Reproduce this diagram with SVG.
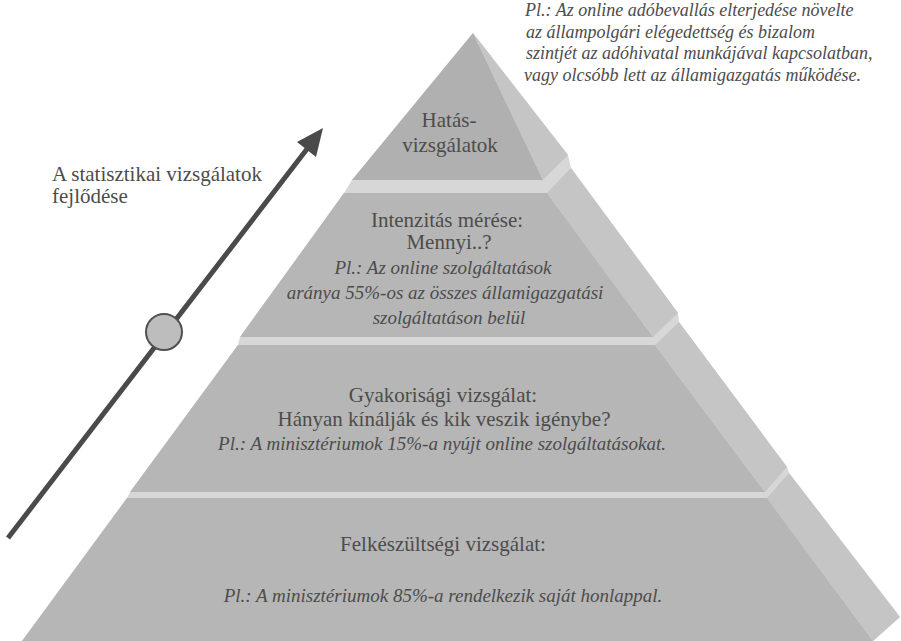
<svg xmlns="http://www.w3.org/2000/svg" width="901" height="641" viewBox="0 0 901 641">
<style>
.t{font-family:"Liberation Serif","Times New Roman",serif;font-size:21px;fill:#4c4c4c}
.i{font-family:"Liberation Serif","Times New Roman",serif;font-size:19px;font-style:italic;fill:#4c4c4c}
.n{font-family:"Liberation Serif","Times New Roman",serif;font-size:18px;font-style:italic;fill:#4c4c4c}
.m{text-anchor:middle}
.front{fill:#b6b6b6}
.top{fill:#b0b0b0}
.side{fill:#c5c5c5}
.band{fill:#d7d7d7}
.arrow{stroke:#4a4a4a;stroke-width:5;fill:none}
</style>
<rect width="901" height="641" fill="#ffffff"/>
<g id="pyramid-body">
<polygon class="band" points="473,33 352,180 344,193 240,337 238,345 130,492 127,498 22,641 873,641 900,617 789,473 787,467 679,322 678,313 571,168 568,155"/>
</g>
<g id="layer1">
<polygon class="top" points="473,33 352,180 543,180"/>
<polygon class="side" points="473,33 543,180 568,155"/>
<text class="t m" x="449" y="127">Hatás-</text>
<text class="t m" x="450" y="152">vizsgálatok</text>
</g>
<g id="layer2">
<polygon class="front" points="344,193 547,193 653,337 240,337"/>
<polygon class="side" points="547,193 571,168 678,313 653,337"/>
<text class="t m" x="447" y="227">Intenzitás mérése:</text>
<text class="t m" x="449" y="249">Mennyi..?</text>
<text class="i m" x="443" y="274">Pl.: Az online szolgáltatások</text>
<text class="i m" x="445" y="299">aránya 55%-os az összes államigazgatási</text>
<text class="i m" x="449" y="324">szolgáltatáson belül</text>
</g>
<g id="layer3">
<polygon class="front" points="238,345 655,345 765,492 130,492"/>
<polygon class="side" points="655,345 679,322 787,467 765,492"/>
<text class="t m" x="443" y="402">Gyakorisági vizsgálat:</text>
<text class="t m" x="444" y="426">Hányan kínálják és kik veszik igénybe?</text>
<text class="i m" x="442" y="450">Pl.: A minisztériumok 15%-a nyújt online szolgáltatásokat.</text>
</g>
<g id="layer4">
<polygon class="front" points="127,498 767,498 873,641 22,641"/>
<polygon class="side" points="767,498 789,473 900,617 873,641"/>
<text class="t m" x="443" y="551">Felkészültségi vizsgálat:</text>
<text class="i m" x="443" y="602">Pl.: A minisztériumok 85%-a rendelkezik saját honlappal.</text>
</g>
<g id="connectors">
<line class="arrow" x1="8" y1="538" x2="307" y2="149"/>
<polygon points="323,128 297,142 316,157" fill="#4a4a4a"/>
<circle cx="164" cy="332" r="18" fill="#bdbdbd" stroke="#505050" stroke-width="2"/>
</g>
<g id="label-development">
<text class="t" x="52" y="181">A statisztikai vizsgálatok</text>
<text class="t" x="52" y="203">fejlődése</text>
</g>
<g id="label-example">
<text class="n" x="525" y="16">Pl.: Az online adóbevallás elterjedése növelte</text>
<text class="n" x="526" y="38">az állampolgári elégedettség és bizalom</text>
<text class="n" x="526" y="59">szintjét az adóhivatal munkájával kapcsolatban,</text>
<text class="n" x="524" y="81">vagy olcsóbb lett az államigazgatás működése.</text>
</g>
</svg>
